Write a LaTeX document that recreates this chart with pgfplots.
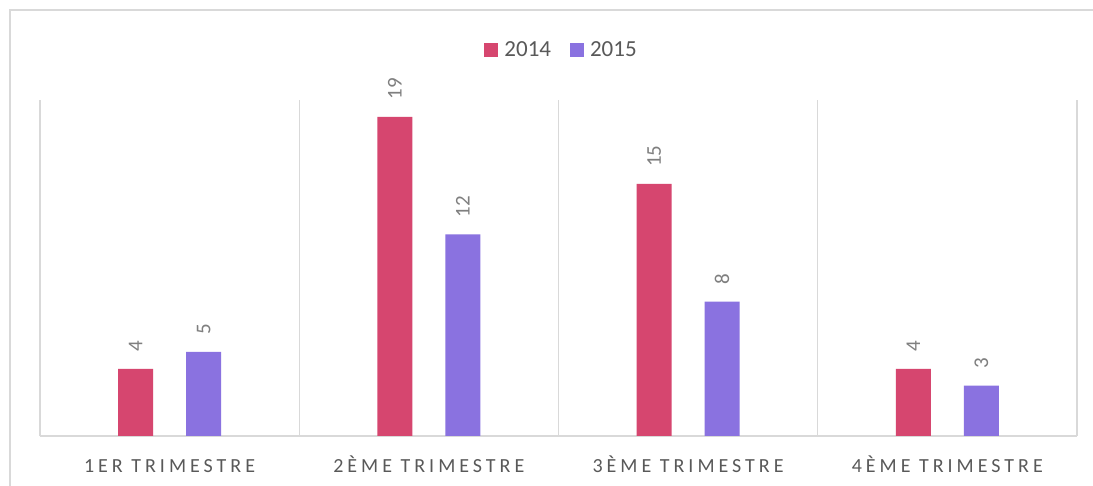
\documentclass[border=0pt]{standalone}
\usepackage{fontspec}
\setmainfont{Carlito}
\newfontfamily\spaced[LetterSpace=20]{Carlito}
\usepackage{pgfplots}
\pgfplotsset{compat=1.18}
\definecolor{cred}{HTML}{D6466F}
\definecolor{cpurple}{HTML}{8A72E0}
\definecolor{gridgray}{HTML}{D9D9D9}
\definecolor{txtgray}{HTML}{595959}
\definecolor{lblgray}{HTML}{7F7F7F}
\begin{document}
\begin{tikzpicture}
\useasboundingbox (0,0) rectangle (1093bp,486bp);
\fill[white] (0,0) rectangle (1093bp,486bp);
\begin{axis}[
  at={(40bp,50bp)}, anchor=south west,
  scale only axis, width=1037bp, height=336bp,
  xmin=-0.5, xmax=3.5, ymin=0, ymax=20,
  ybar, bar width=35bp,
  axis y line=none,
  axis x line*=bottom,
  x axis line style={draw=gridgray, line width=1.2bp},
  xtick={0,1,2,3},
  xticklabels={1ER TRIMESTRE, 2ÈME TRIMESTRE, 3ÈME TRIMESTRE, 4ÈME TRIMESTRE},
  major tick length=0pt,
  xticklabel style={anchor=base, yshift=-36bp, font=\fontsize{20bp}{24bp}\spaced, text=txtgray},
  extra x ticks={-0.5,0.5,1.5,2.5,3.5},
  extra x tick labels={},
  extra x tick style={grid=major, major grid style={draw=gridgray, line width=1.2bp}, major tick length=0pt},
  /pgf/number format/assume math mode=true,
  nodes near coords,
  every node near coord/.append style={rotate=90, anchor=west, inner xsep=17bp, inner ysep=0pt, font=\fontsize{21bp}{25bp}\selectfont, text=lblgray},
  legend columns=2,
  legend style={at={(0.503,1.149)}, anchor=center, draw=none, fill=none,
    font=\fontsize{23bp}{27bp}\selectfont, text=txtgray,
    /tikz/every even column/.append style={column sep=17bp},
    /tikz/every odd column/.append style={column sep=4bp}},
  legend image code/.code={\fill[#1, draw=none] (0bp,-7bp) rectangle (14bp,7bp);},
]
\addplot[fill=cred, draw=none, bar shift=-34bp] coordinates {(0,4) (1,19) (2,15) (3,4)};
\addplot[fill=cpurple, draw=none, bar shift=34bp] coordinates {(0,5) (1,12) (2,8) (3,3)};
\legend{2014, 2015}
\end{axis}
\draw[gridgray, line width=1.2bp] (10bp,0) -- (10bp,476bp) -- (1093bp,476bp);
\end{tikzpicture}
\end{document}
